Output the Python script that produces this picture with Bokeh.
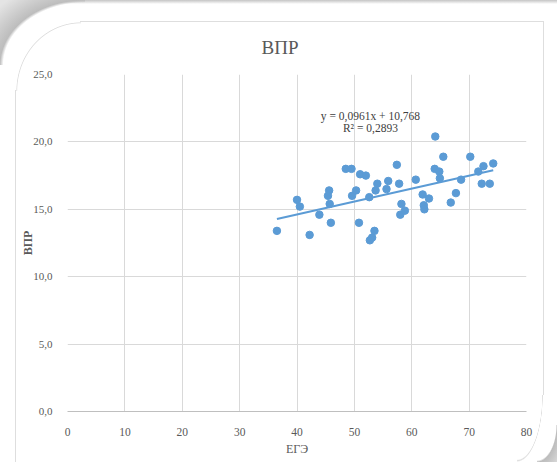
from bokeh.plotting import figure
from bokeh.models import FixedTicker, CustomJSTickFormatter, ColumnDataSource, InlineStyleSheet
from bokeh.core.properties import value
from bokeh.embed import file_html
from bokeh.resources import INLINE

# ---- data ----
ege = [36.5, 40.0, 40.5, 42.2, 43.9, 45.6, 45.4, 45.7, 45.9, 48.5, 49.5, 49.6,
       50.3, 50.8, 51.0, 52.0, 52.6, 52.7, 53.1, 53.5, 53.7, 54.0, 55.6, 55.9,
       57.4, 57.8, 58.2, 58.0, 58.8, 60.7, 61.9, 62.1, 62.2, 63.0, 64.1, 64.0,
       64.8, 64.9, 65.5, 66.8, 67.7, 68.6, 70.2, 71.6, 72.2, 72.5, 73.6, 74.2]
vpr = [13.4, 15.7, 15.2, 13.1, 14.6, 16.4, 16.0, 15.4, 14.0, 18.0, 18.0, 16.0,
       16.4, 14.0, 17.6, 17.5, 15.9, 12.7, 12.9, 13.4, 16.4, 16.9, 16.5, 17.1,
       18.3, 16.9, 15.4, 14.6, 14.9, 17.2, 16.1, 15.3, 15.0, 15.8, 20.4, 18.0,
       17.8, 17.3, 18.9, 15.5, 16.2, 17.2, 18.9, 17.8, 16.9, 18.2, 16.9, 18.4]
slope = 0.0961
intercept = 10.768
eq_label = "y = 0,0961x + 10,768"
r2_label = "R² = 0,2893"
x_ticks = [0, 10, 20, 30, 40, 50, 60, 70, 80]
y_ticks = [0, 5, 10, 15, 20, 25]

SERIF = "Liberation Serif"
W, H = 557, 462

p = figure(width=W, height=H, output_backend="svg", toolbar_location=None,
           x_range=(0, 80), y_range=(0, 25),
           min_border_left=67, min_border_right=31, min_border_top=74, min_border_bottom=51)
p.outline_line_color = None
p.background_fill_color = "white"
p.border_fill_color = None

# slide-like decorations drawn as CSS backgrounds of the plot host
LINE = "#dedede"
css = f"""
:host {{
  background:
    radial-gradient(65px 69px at 100% 100%, transparent 97.5%, {LINE} 98.8%, transparent 100%) 15px 21px / 66px 70px no-repeat,
    linear-gradient({LINE}, {LINE}) 80px 21px / 464px 1px no-repeat,
    linear-gradient({LINE}, {LINE}) 15px 90px / 1px 372px no-repeat,
    linear-gradient({LINE}, {LINE}) 543px 21px / 1px 374px no-repeat,
    radial-gradient(26px 67px at 0 0, transparent 96%, {LINE} 98%, transparent 100%) 517px 395px / 27px 68px no-repeat,
    radial-gradient(85px 65px at 100% 100%, transparent 96%, #bdbdbd 100%, #e4e4e4 135%) 0 0 / 85px 65px no-repeat,
    radial-gradient(20px 37px at 0 0, transparent 95%, #bdbdbd 100%, #e4e4e4 160%) 537px 425px / 20px 37px no-repeat,
    linear-gradient(#c4c4c4, rgba(255,255,255,0)) 0 0 / 100% 4px no-repeat,
    #ffffff;
}}
"""
p.stylesheets = [InlineStyleSheet(css=css)]

p.title.text = "ВПР"
p.title.text_font = SERIF
p.title.text_font_size = "19px"
p.title.text_font_style = "normal"
p.title.text_color = "#595959"
p.title.align = "left"
p.title.offset = 194
p.title.standoff = 34

# axes
p.xaxis.ticker = FixedTicker(ticks=x_ticks)
p.yaxis.ticker = FixedTicker(ticks=y_ticks)
p.yaxis.formatter = CustomJSTickFormatter(code="return tick.toFixed(1).replace('.', ',');")
for ax in (p.xaxis[0], p.yaxis[0]):
    ax.major_tick_line_color = None
    ax.minor_tick_line_color = None
    ax.major_label_text_font = SERIF
    ax.major_label_text_font_size = "11.5px"
    ax.major_label_text_color = "#595959"
    ax.axis_label_text_font = SERIF
    ax.axis_label_text_color = "#595959"
    ax.axis_label_text_font_size = "12px"
p.yaxis.major_label_text_font_size = "11px"
p.xaxis.axis_line_color = "#bfbfbf"
p.yaxis.axis_line_color = None
p.xaxis.major_label_standoff = 10
p.yaxis.major_label_standoff = 9
p.xaxis.axis_label = "ЕГЭ"
p.yaxis.axis_label = "ВПР"
p.yaxis.axis_label_text_font_style = "bold"
p.xaxis.axis_label_text_font_style = "normal"
p.xaxis.axis_label_standoff = 3
p.yaxis.axis_label_standoff = -5

p.xgrid.ticker = FixedTicker(ticks=x_ticks)
p.ygrid.ticker = FixedTicker(ticks=y_ticks)
p.xgrid.grid_line_color = "#d9d9d9"
p.ygrid.grid_line_color = "#d9d9d9"

# scatter
src = ColumnDataSource(data=dict(x=ege, y=vpr))
p.scatter("x", "y", source=src, size=7.5, fill_color="#5b9bd5", line_color="#5b9bd5")

xmin, xmax = min(ege), max(ege)
p.line([xmin, xmax], [slope * xmin + intercept, slope * xmax + intercept],
       line_color="#5b9bd5", line_width=2)

p.text(x=[52.8], y=[21.9], text=[eq_label], text_font=value(SERIF), text_font_size="11.5px",
       text_color="#404040", text_align="center", text_baseline="middle")
p.text(x=[52.8], y=[21.0], text=[r2_label], text_font=value(SERIF), text_font_size="11.5px",
       text_color="#404040", text_align="center", text_baseline="middle")

open("out.html", "w").write(file_html(p, INLINE))
